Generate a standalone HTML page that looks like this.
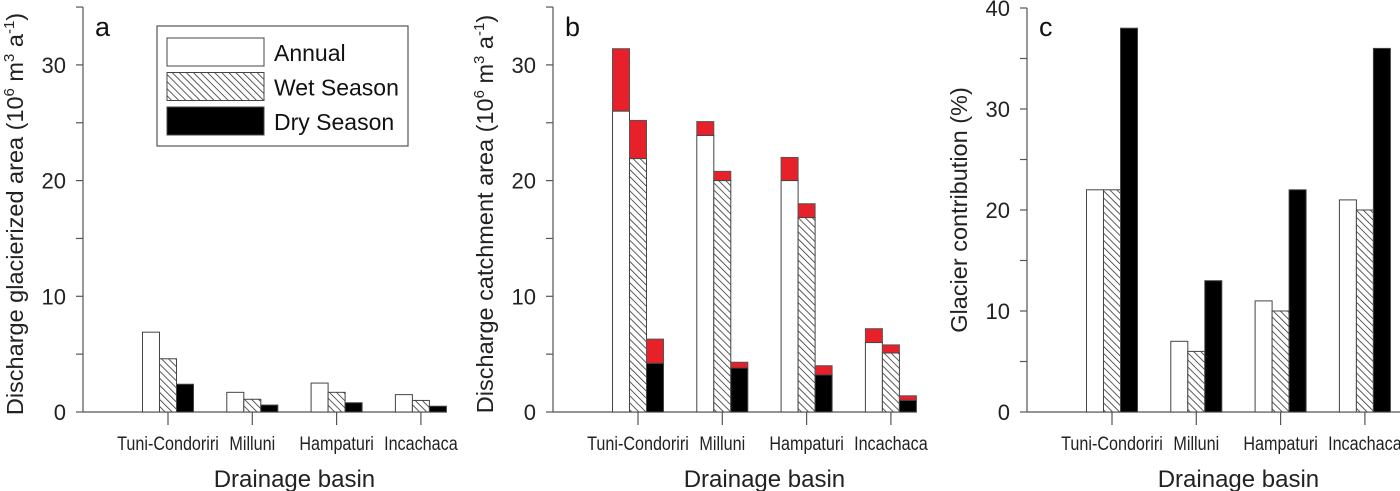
<!DOCTYPE html>
<html><head><meta charset="utf-8"><style>
body{margin:0;background:#fff}
svg{display:block;font-family:"Liberation Sans",Arial,sans-serif}
</style></head><body>
<svg id="fig" width="1400" height="491" viewBox="0 0 1400 491">
<defs>
<pattern id="hatch" patternUnits="userSpaceOnUse" width="5" height="5" patternTransform="rotate(-45)">
<rect width="5" height="5" fill="#fff"/>
<line x1="0" y1="0" x2="0" y2="5" stroke="#333" stroke-width="1.6"/>
</pattern>
</defs>
</svg>
<script>
const categories=["Tuni-Condoriri","Milluni","Hampaturi","Incachaca"];
const aAnnual=[6.9,1.7,2.5,1.5];
const aWet=[4.6,1.1,1.7,1.0];
const aDry=[2.4,0.6,0.8,0.5];
const bAnnualBase=[26,23.9,20,6.0];
const bAnnualTotal=[31.4,25.1,22,7.2];
const bWetBase=[21.9,20.0,16.8,5.1];
const bWetTotal=[25.2,20.8,18,5.8];
const bDryBase=[4.2,3.8,3.2,1.0];
const bDryTotal=[6.3,4.3,4.0,1.4];
const cAnnual=[22,7,11,21];
const cWet=[22,6,10,20];
const cDry=[38,13,22,36];
const abTicks=[0,10,20,30];
const cTicks=[0,10,20,30,40];
const legendLabels=["Annual","Wet Season","Dry Season"];

const svg=document.getElementById('fig');
const NS='http://www.w3.org/2000/svg';
function el(t,a,p){const e=document.createElementNS(NS,t);for(const k in a)e.setAttribute(k,a[k]);(p||svg).appendChild(e);return e;}
const Y0=412;
const fills=["#fff","url(#hatch)","#000"];

function panel(id,ox,xEnd,maxV,pxPer10,ticks,minorStep,letter,titleHTML,titleY){
  const g=el('g',{});
  
  
  const y=v=>Y0-v*pxPer10/10;
  const ax=el('line',{x1:ox,y1:y(maxV),x2:ox,y2:Y0,stroke:'#555','stroke-width':1.2},g);
  
  
  const xl=el('line',{x1:ox,y1:Y0,x2:xEnd,y2:Y0,stroke:'#555','stroke-width':1.2},g);
  
  
  for(let v=0;v<=maxV+0.01;v+=minorStep){
    el('line',{x1:ox-7,y1:y(v),x2:ox,y2:y(v),stroke:'#555','stroke-width':1.2},g);
  }
  ticks.forEach(t=>{
    const tx=el('text',{x:ox-17,y:y(t)+8,'text-anchor':'end','font-size':22,fill:'#222'},g);
    tx.textContent=t;
    
    
  });
  const centers=categories.map((c,i)=>ox+85+i*84.3);
  categories.forEach((c,i)=>{
    el('line',{x1:centers[i],y1:Y0,x2:centers[i],y2:Y0+13,stroke:'#555','stroke-width':1.2},g);
    const tx=el('text',{x:centers[i],y:450,'text-anchor':'middle','font-size':19,fill:'#222'},g);
    tx.textContent=c;
    
    
    const w=tx.getComputedTextLength();
    tx.setAttribute('textLength',w*0.85);
    tx.setAttribute('lengthAdjust','spacingAndGlyphs');
  });
  const xt=el('text',{x:(centers[0]+centers[3])/2,y:487,'text-anchor':'middle','font-size':24,fill:'#222'},g);
  xt.textContent='Drainage basin';
  
  
  const yt=el('text',{x:0,y:0,'text-anchor':'middle','font-size':23.5,fill:'#222',transform:`translate(${ox-60},${titleY}) rotate(-90)`},g);
  yt.innerHTML=titleHTML;
  
  
  const lt=el('text',{x:ox+12,y:36,'font-size':27,fill:'#111'},g);
  lt.textContent=letter;
  
  
  return {g,y,centers};
}
function bar(g,x,y0,y1,fill,stroke,name){
  const r=el('rect',{x:x,y:Math.min(y0,y1),width:17,height:Math.abs(y1-y0),fill:fill,stroke:stroke,'stroke-width':1},g);
  
  
}
const sup='(10<tspan dy="-9" font-size="15">6</tspan><tspan dy="9"> m</tspan><tspan dy="-9" font-size="15">3</tspan><tspan dy="9"> a</tspan><tspan dy="-9" font-size="15">-1</tspan><tspan dy="9">)</tspan>';

// Panel a
const A=panel('a',83,447,35,115.7,abTicks,5,'a','Discharge glacierized area '+sup,214);
[aAnnual,aWet,aDry].forEach((s,si)=>s.forEach((v,i)=>{
  bar(A.g,A.centers[i]-25.5+si*17,A.y(0),A.y(v),fills[si],'#444','bar-a-'+['annual','wet','dry'][si]);
}));
// legend
const lg=el('g',{});


el('rect',{x:157,y:26,width:251,height:120,fill:'#fff',stroke:'#555','stroke-width':1.2},lg);
legendLabels.forEach((l,i)=>{
  const e=el('g',{},lg);
  
  
  el('rect',{x:167,y:38+i*34.5,width:97,height:28,fill:fills[i],stroke:'#444','stroke-width':1},e);
  const t=el('text',{x:274,y:61+i*34.5,'font-size':23,fill:'#111'},e);
  t.textContent=l;
});

// Panel b
const B=panel('b',553,917,35,115.7,abTicks,5,'b','Discharge catchment area '+sup,214);
[[bAnnualBase,bAnnualTotal],[bWetBase,bWetTotal],[bDryBase,bDryTotal]].forEach((p,si)=>categories.forEach((c,i)=>{
  const x=B.centers[i]-25.5+si*17;
  bar(B.g,x,B.y(p[0][i]),B.y(p[1][i]),'#e8202a','#555','bar-b-glacier-'+['annual','wet','dry'][si]);
  bar(B.g,x,B.y(0),B.y(p[0][i]),fills[si],'#444','bar-b-'+['annual','wet','dry'][si]);
}));

// Panel c
const C=panel('c',1027,1400,40,101,cTicks,5,'c','Glacier contribution (%)',210);
[cAnnual,cWet,cDry].forEach((s,si)=>s.forEach((v,i)=>{
  bar(C.g,C.centers[i]-25.5+si*17,C.y(0),C.y(v),fills[si],'#444','bar-c-'+['annual','wet','dry'][si]);
}));
</script>
</body></html>
